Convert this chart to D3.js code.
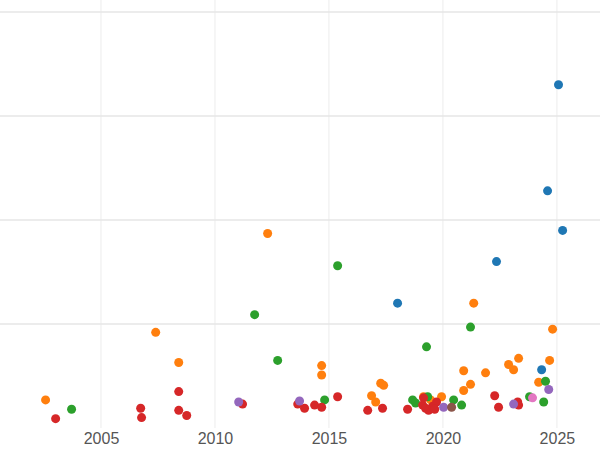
<!DOCTYPE html>
<html><head><meta charset="utf-8">
<script src="https://cdn.jsdelivr.net/npm/d3@7"></script>
<style>body{margin:0;background:#fff}</style></head>
<body><div id="chart"></div>
<script>
var groups = ["blue", "orange", "green", "red", "purple", "brown", "pink"];
var colors = ["#1f77b4", "#ff7f0e", "#2ca02c", "#d62728", "#9467bd", "#8c564b", "#e377c2"];

var blueYears = [2025.07, 2024.59, 2025.25, 2022.35, 2018.01, 2024.33];
var blueVals = [3.30, 2.28, 1.90, 1.60, 1.20, 0.56];
var orangeYears = [2002.57, 2007.4, 2008.41, 2012.31, 2014.68, 2014.68, 2017.27, 2017.4, 2016.87, 2017.05, 2019.94, 2020.91, 2020.91, 2021.21, 2021.35, 2021.87, 2022.88, 2023.1, 2023.32, 2024.2, 2024.68, 2024.81, 2019.46, 2019.15];
var orangeVals = [0.27, 0.92, 0.63, 1.87, 0.60, 0.51, 0.43, 0.41, 0.31, 0.25, 0.30, 0.55, 0.36, 0.42, 1.20, 0.53, 0.61, 0.56, 0.67, 0.44, 0.65, 0.95, 0.27, 0.30];
var greenYears = [2003.71, 2011.74, 2012.75, 2015.38, 2014.81, 2018.67, 2018.8, 2019.33, 2019.28, 2021.21, 2020.47, 2020.82, 2023.8, 2024.42, 2024.5];
var greenVals = [0.18, 1.09, 0.65, 1.56, 0.27, 0.27, 0.24, 0.30, 0.78, 0.97, 0.27, 0.22, 0.30, 0.25, 0.45];
var redYears = [2003.01, 2006.74, 2006.78, 2008.41, 2008.41, 2008.76, 2011.21, 2013.63, 2013.93, 2014.37, 2014.68, 2015.38, 2016.7, 2017.35, 2018.45, 2019.11, 2019.24, 2019.37, 2019.55, 2019.72, 2019.64, 2022.27, 2022.44, 2023.28, 2023.32, 2019.15];
var redVals = [0.09, 0.19, 0.10, 0.35, 0.17, 0.12, 0.23, 0.23, 0.19, 0.22, 0.20, 0.30, 0.17, 0.19, 0.18, 0.22, 0.19, 0.17, 0.21, 0.25, 0.18, 0.31, 0.20, 0.25, 0.22, 0.29];
var purpleYears = [2011.04, 2013.71, 2020.03, 2023.1, 2024.64];
var purpleVals = [0.25, 0.26, 0.20, 0.23, 0.37];
var brownYears = [2020.38];
var brownVals = [0.20];
var pinkYears = [2023.93];
var pinkVals = [0.29];

var xTicks = [2005, 2010, 2015, 2020, 2025];
var yGrid = [1, 2, 3, 4];

var allYears = [blueYears, orangeYears, greenYears, redYears, purpleYears, brownYears, pinkYears];
var allVals = [blueVals, orangeVals, greenVals, redVals, purpleVals, brownVals, pinkVals];

var svgWidth = 600, svgHeight = 450;
var plotBottom = 428;

var svg = d3.select("#chart").append("svg")
  .attr("width", svgWidth).attr("height", svgHeight)
  .style("font-family", "'Open Sans', sans-serif");

var x = d3.scaleLinear().domain([2000.57, 2026.89]).range([0, svgWidth]);
var y = d3.scaleLinear().domain([0, 4.115]).range([plotBottom, 0]);

// grid
svg.append("g").selectAll("line").data(xTicks).enter().append("line")
  .attr("x1", d => x(d)).attr("x2", d => x(d))
  .attr("y1", 0).attr("y2", plotBottom)
  .attr("stroke", "#ececec").attr("stroke-width", 1);
svg.append("g").selectAll("line").data(yGrid).enter().append("line")
  .attr("x1", 0).attr("x2", svgWidth)
  .attr("y1", d => y(d)).attr("y2", d => y(d))
  .attr("stroke", "#e6e6e6").attr("stroke-width", 1.5);

var xAxis = svg.append("g")
  .attr("transform", `translate(0, ${plotBottom})`)
  .call(d3.axisBottom(x).tickValues(xTicks).tickFormat(d3.format("d")).tickSize(0).tickPadding(5));
xAxis.select(".domain").remove();
xAxis.selectAll("text").attr("font-size", "16px").attr("fill", "#555");

// points
groups.forEach(function(g, i) {
  var pts = allYears[i].map((yr, j) => ({year: yr, val: allVals[i][j]}));
  svg.append("g").selectAll("circle").data(pts).enter().append("circle")
    .attr("cx", d => x(d.year))
    .attr("cy", d => y(d.val))
    .attr("r", 4.5)
    .attr("fill", colors[i]);
});
</script></body></html>
